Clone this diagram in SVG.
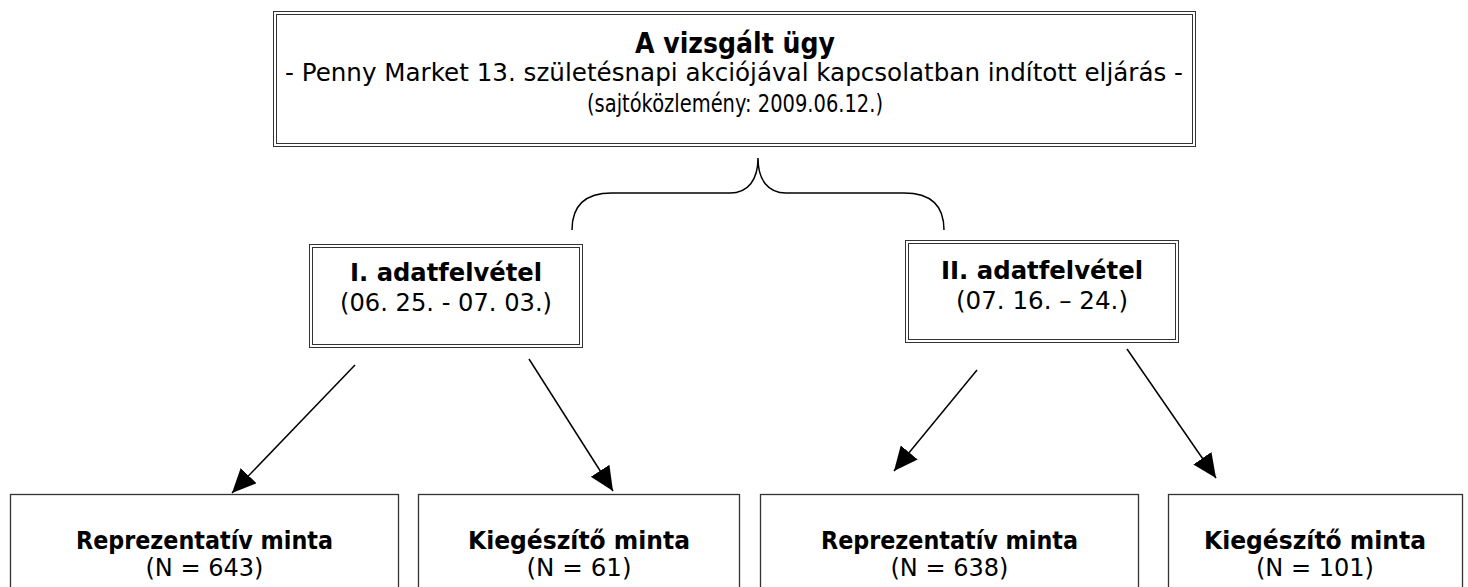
<svg xmlns="http://www.w3.org/2000/svg" width="1468" height="587" viewBox="0 0 1468 587">
<style>
.bx{fill:#fff;stroke:#333;stroke-width:1}
.in{fill:none;stroke:#333;stroke-width:1}
.sb{fill:#fff;stroke:#333;stroke-width:1.3}
text{font-family:"DejaVu Sans","Liberation Sans",sans-serif;fill:#000;text-anchor:middle}
.r{font-size:25px}
.h{font-size:25px;font-weight:bold}
.t{font-size:28px;font-weight:bold}
.ln{fill:none;stroke:#000;stroke-width:1.5}
</style>
<defs>
<marker id="ah" markerUnits="userSpaceOnUse" markerWidth="26" markerHeight="24" refX="24" refY="11" orient="auto">
<path d="M0,0 L24,11 L0,22 z" fill="#000"/>
</marker>
</defs>
<rect width="1468" height="587" fill="#fff"/>
<g id="top">
<rect class="bx" x="273.5" y="11.5" width="922" height="135"/>
<rect class="in" x="276.5" y="14.5" width="916" height="129"/>
<text class="t" x="735" y="53" textLength="200" lengthAdjust="spacingAndGlyphs">A vizsgált ügy</text>
<text class="r" x="734" y="81" textLength="898" lengthAdjust="spacingAndGlyphs">- Penny Market 13. születésnapi akciójával kapcsolatban indított eljárás -</text>
<text class="r" x="735" y="112" font-size="23" textLength="296" lengthAdjust="spacingAndGlyphs">(sajtóközlemény: 2009.06.12.)</text>
</g>
<g id="survey1">
<rect class="bx" x="309.5" y="244.5" width="273" height="103"/>
<rect class="in" x="312.5" y="247.5" width="267" height="97"/>
<text class="h" x="446" y="281" textLength="192" lengthAdjust="spacingAndGlyphs">I. adatfelvétel</text>
<text class="r" x="446" y="311" textLength="212" lengthAdjust="spacingAndGlyphs">(06. 25. - 07. 03.)</text>
</g>
<g id="survey2">
<rect class="bx" x="905.5" y="240.5" width="273" height="102"/>
<rect class="in" x="908.5" y="243.5" width="267" height="96"/>
<text class="h" x="1042" y="279" textLength="202" lengthAdjust="spacingAndGlyphs">II. adatfelvétel</text>
<text class="r" x="1042" y="309" textLength="172" lengthAdjust="spacingAndGlyphs">(07. 16. – 24.)</text>
</g>
<g id="rep1">
<rect class="sb" x="10.5" y="494.5" width="388" height="120"/>
<text class="h" x="204.5" y="549" textLength="257" lengthAdjust="spacingAndGlyphs">Reprezentatív minta</text>
<text class="r" x="204.5" y="576" textLength="118" lengthAdjust="spacingAndGlyphs">(N = 643)</text>
</g>
<g id="kieg1">
<rect class="sb" x="418.5" y="494.5" width="321" height="120"/>
<text class="h" x="579" y="549" textLength="222" lengthAdjust="spacingAndGlyphs">Kiegészítő minta</text>
<text class="r" x="579" y="576" textLength="105" lengthAdjust="spacingAndGlyphs">(N = 61)</text>
</g>
<g id="rep2">
<rect class="sb" x="760.5" y="494.5" width="378" height="120"/>
<text class="h" x="949.5" y="549" textLength="257" lengthAdjust="spacingAndGlyphs">Reprezentatív minta</text>
<text class="r" x="949.5" y="576" textLength="118" lengthAdjust="spacingAndGlyphs">(N = 638)</text>
</g>
<g id="kieg2">
<rect class="sb" x="1168.5" y="494.5" width="294" height="120"/>
<text class="h" x="1315" y="549" textLength="222" lengthAdjust="spacingAndGlyphs">Kiegészítő minta</text>
<text class="r" x="1315" y="576" textLength="118" lengthAdjust="spacingAndGlyphs">(N = 101)</text>
</g>
<g id="connectors">
<path class="ln" d="M572,230 C572,205 585,193 612,193 L730,193 C748,193 758,180 758,158 C758,180 768,193 786,193 L904,193 C931,193 944,205 944,230"/>
<line class="ln" x1="355" y1="365" x2="232" y2="493" marker-end="url(#ah)"/>
<line class="ln" x1="529" y1="359" x2="613" y2="491" marker-end="url(#ah)"/>
<line class="ln" x1="977" y1="370" x2="894" y2="471" marker-end="url(#ah)"/>
<line class="ln" x1="1127" y1="349" x2="1216" y2="478" marker-end="url(#ah)"/>
</g>
</svg>
